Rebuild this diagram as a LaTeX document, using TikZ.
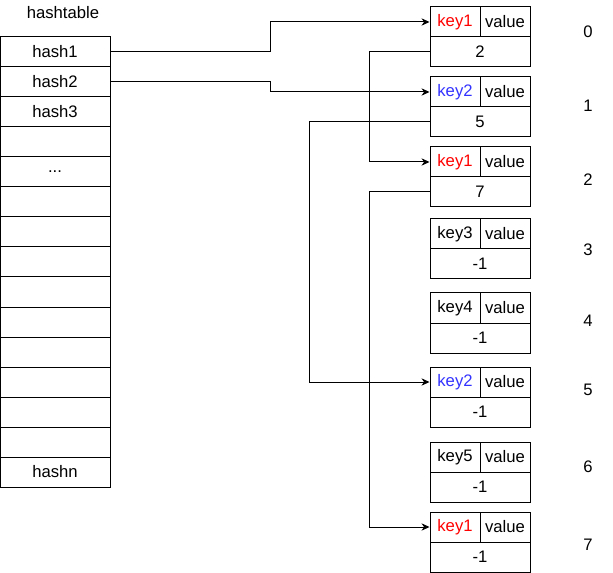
\documentclass[tikz,border=0pt]{standalone}
\usepackage{fontspec}
\setmainfont{Liberation Sans}
\usetikzlibrary{arrows.meta}
\definecolor{keyred}{RGB}{255,0,0}
\definecolor{keyblue}{RGB}{51,51,255}
\newcommand{\rowdots}{...}

\begin{document}
\begin{tikzpicture}[x=0.75pt, y=-0.75pt, font=\fontsize{12.5}{15}\selectfont,
    cell/.style={draw, line width=0.75pt, inner sep=0pt, minimum height=22.5pt},
    slot/.style={cell, minimum width=82.5pt},
    keycell/.style={cell, minimum width=37.5pt},
    nextcell/.style={cell, minimum width=75pt},
    link/.style={line width=0.75pt, -{Stealth[length=6pt, width=5.5pt]}}]
    \useasboundingbox (0,0) rectangle (613,573);

    % The hash table
    \node (title) at (63,13) {hashtable};
    \foreach \i/\t in {1/hash1, 2/hash2, 3/hash3, 4/{}, 5/\rowdots, 6/{}, 7/{}, 8/{},
                       9/{}, 10/{}, 11/{}, 12/{}, 13/{}, 14/{}, 15/hashn}
        \node[slot] (h\i) at (55,22+30*\i) {\t};

    % The entries
    \foreach \b/\top/\key/\col/\nxt in {0/7/key1/keyred/2, 1/77/key2/keyblue/5,
                                        2/147/key1/keyred/7, 3/219/key3/black/-1,
                                        4/293/key4/black/-1, 5/367/key2/keyblue/-1,
                                        6/442/key5/black/-1, 7/512/key1/keyred/-1} {
        \node[keycell, text=\col] (k\b) at (455,\top+15) {\key};
        \node[keycell] (v\b) at (505,\top+15) {value};
        \node[nextcell] (n\b) at (480,\top+45) {\nxt};
    }

    % Indices
    \foreach \b/\y in {0/32, 1/106, 2/180, 3/250, 4/321, 5/390, 6/467, 7/545}
        \node (i\b) at (588,\y) {\b};

    % Links
    \draw[link] (h1.east) -- ++(160,0) |- (k0.west);
    \draw[link] (h2.east) -- ++(160,0) |- (k1.west);
    \draw[link] (n0.west) -- ++(-60,0) |- (k2.west);
    \draw[link] (n1.west) -- ++(-120,0) |- (k5.west);
    \draw[link] (n2.west) -- ++(-60,0) |- (k7.west);
\end{tikzpicture}
\end{document}
